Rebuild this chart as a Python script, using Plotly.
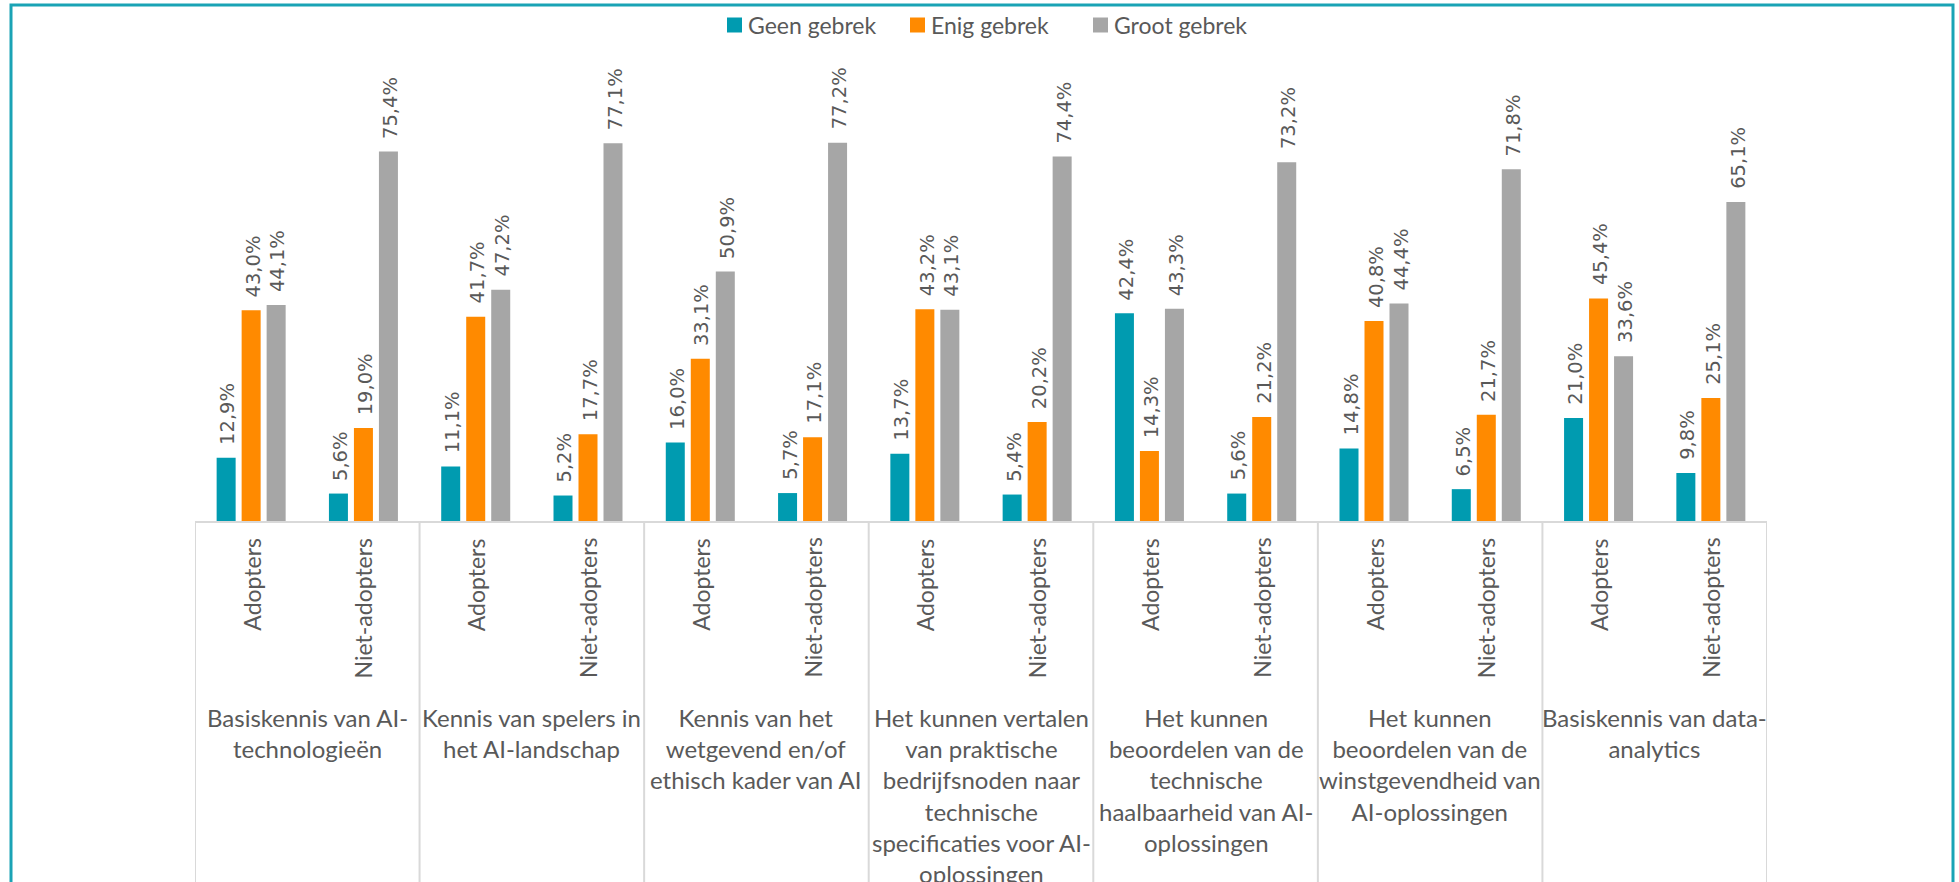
import plotly.graph_objects as go

groups = [
    "Basiskennis van AI-<br>technologieën",
    "Kennis van spelers in<br>het AI-landschap",
    "Kennis van het<br>wetgevend en/of<br>ethisch kader van AI",
    "Het kunnen vertalen<br>van praktische<br>bedrijfsnoden naar<br>technische<br>specificaties voor AI-<br>oplossingen",
    "Het kunnen<br>beoordelen van de<br>technische<br>haalbaarheid van AI-<br>oplossingen",
    "Het kunnen<br>beoordelen van de<br>winstgevendheid van<br>AI-oplossingen",
    "Basiskennis van data-<br>analytics",
]
subgroups = ["Adopters", "Niet-adopters"]

geen_gebrek = [12.9, 5.6, 11.1, 5.2, 16.0, 5.7, 13.7, 5.4, 42.4, 5.6, 14.8, 6.5, 21.0, 9.8]
enig_gebrek = [43.0, 19.0, 41.7, 17.7, 33.1, 17.1, 43.2, 20.2, 14.3, 21.2, 40.8, 21.7, 45.4, 25.1]
groot_gebrek = [44.1, 75.4, 47.2, 77.1, 50.9, 77.2, 43.1, 74.4, 43.3, 73.2, 44.4, 71.8, 33.6, 65.1]

series_names = ["Geen gebrek", "Enig gebrek", "Groot gebrek"]
series_values = [geen_gebrek, enig_gebrek, groot_gebrek]
series_colors = ["#009BB0", "#FF8A00", "#A6A6A6"]

TEXT = "#595959"
LABEL_FONT = "Lato"
VALUE_FONT = "DejaVu Sans"
BARGAP = 0.332
BARGROUPGAP = 0.24

W, H = 1959, 882
ML, MR, MT, MB = 195, 192, 31, 361
PW, PH = W - ML - MR, H - MT - MB


def px_x(px):
    return (px - ML) / PW


def px_y(py):
    return (H - MB - py) / PH


n = len(geen_gebrek)
xs = list(range(n))

fig = go.Figure()
for name, vals, col in zip(series_names, series_values, series_colors):
    fig.add_trace(go.Bar(x=xs, y=vals, name=name, marker=dict(color=col, line=dict(width=0)),
                         hoverinfo="skip", showlegend=False))

annotations = []
slot = (1 - BARGAP) / len(series_values)
for k, vals in enumerate(series_values):
    off = (k - (len(series_values) - 1) / 2) * slot
    for i, v in enumerate(vals):
        annotations.append(dict(
            x=i + off, y=v, xref="x", yref="y", text=f"{v:.1f}".replace(".", ",") + "%",
            showarrow=False, textangle=-90, yanchor="bottom", xanchor="center",
            yshift=11, xshift=2, font=dict(family=VALUE_FONT, size=19.5, color=TEXT)))

# sub category labels
for i in xs:
    annotations.append(dict(
        x=i, y=0, xref="x", yref="paper", text=subgroups[i % 2], showarrow=False,
        textangle=-90, yanchor="top", xanchor="center", yshift=-15,
        font=dict(family=LABEL_FONT, size=23, color=TEXT)))

# group labels
for g, lab in enumerate(groups):
    annotations.append(dict(
        x=2 * g + 0.5, y=0, xref="x", yref="paper", text=lab, showarrow=False,
        yanchor="top", xanchor="center", yshift=-180, align="center",
        font=dict(family=LABEL_FONT, size=24, color=TEXT)))

shapes = []
for g in range(len(groups) + 1):
    shapes.append(dict(type="line", xref="x", yref="paper", x0=2 * g - 0.5, x1=2 * g - 0.5,
                       y0=0, y1=-0.8, line=dict(color="#D9D9D9", width=2)))
shapes.append(dict(type="rect", xref="paper", yref="paper", x0=px_x(11), x1=px_x(1953),
                   y0=-0.8, y1=px_y(5), line=dict(color="#1AA3B5", width=3)))

# legend (swatch + label)
legend_left = [727, 910, 1093]
SW = 15
for name, col, lx in zip(series_names, series_colors, legend_left):
    shapes.append(dict(type="rect", xref="paper", yref="paper",
                       x0=px_x(lx), x1=px_x(lx + SW), y0=px_y(32.5), y1=px_y(17.5),
                       fillcolor=col, line=dict(width=0)))
    annotations.append(dict(x=px_x(lx + SW + 4), y=px_y(25.5), xref="paper", yref="paper",
                            text=name, showarrow=False, xanchor="left", yanchor="middle",
                            font=dict(family=LABEL_FONT, size=23, color=TEXT)))

fig.update_layout(
    width=W, height=H,
    margin=dict(l=ML, r=MR, t=MT, b=MB),
    paper_bgcolor="white", plot_bgcolor="white",
    barmode="group", bargap=BARGAP, bargroupgap=BARGROUPGAP,
    xaxis=dict(range=[-0.5, n - 0.5], showticklabels=False, showgrid=False, zeroline=False,
               showline=True, linecolor="#D9D9D9", linewidth=2, ticks=""),
    yaxis=dict(range=[0, 100], visible=False),
    annotations=annotations, shapes=shapes,
    showlegend=False,
)

fig.write_html("out.html")
